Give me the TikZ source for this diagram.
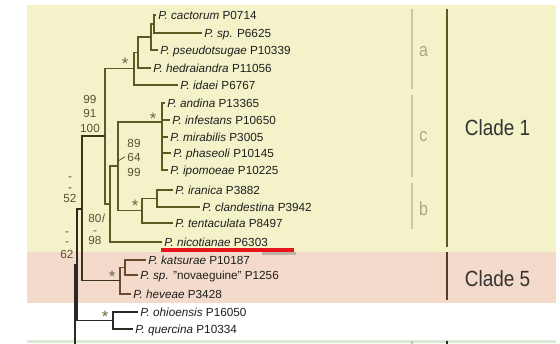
\documentclass[tikz,border=0pt]{standalone}
\usepackage{fontspec}
\setmainfont{Liberation Sans}
\definecolor{bgY}{HTML}{F4F2C9}
\definecolor{bgS}{HTML}{F4DACA}
\definecolor{bgG}{HTML}{D9EBD3}
\definecolor{brY}{HTML}{5C5A22}
\definecolor{brS}{HTML}{6B4B2E}
\definecolor{brK}{HTML}{2A2A22}
\definecolor{brE}{HTML}{3B3418}
\definecolor{tipcol}{HTML}{1E1E1E}
\definecolor{bscol}{HTML}{5B5233}
\definecolor{starcol}{HTML}{6B6740}
\definecolor{subbar}{HTML}{C9C6A0}
\definecolor{sublet}{HTML}{A9A78A}
\definecolor{cbarA}{HTML}{5A5620}
\definecolor{cbarB}{HTML}{5A3A20}
\definecolor{cladetxt}{HTML}{333333}
\definecolor{ulred}{HTML}{E8141B}
\newcommand\tipsize{\fontsize{8.8pt}{10pt}\selectfont}
\newcommand\starsize{\fontsize{12.5pt}{14pt}\selectfont}
\newcommand\cladesize{\fontsize{16.5pt}{18pt}\selectfont}
\newcommand\subsize{\fontsize{14pt}{16pt}\selectfont}
\begin{document}
\begin{tikzpicture}[x=0.75pt,y=-0.75pt,
  tip/.style={anchor=west,inner xsep=1.9pt,inner ysep=0pt,text height=6.3pt,text depth=0pt,font=\tipsize,text=tipcol},
  bs/.style={inner sep=0pt,text height=6.3pt,text depth=0pt,font=\tipsize,text=bscol},
  star/.style={inner sep=0pt,font=\starsize,text=starcol},
  ybr/.style={draw=brY,line width=0.9pt},
  sbr/.style={draw=brS,line width=0.9pt},
  kbr/.style={draw=brK,line width=0.9pt},
  ebr/.style={draw=brE,line width=0.9pt},
  subbarsty/.style={draw=subbar,line width=1.2pt},
  subletsty/.style={anchor=base,inner sep=0pt,font=\subsize,text=sublet,xscale=0.86},
  cladesty/.style={anchor=base,inner sep=0pt,font=\cladesize,text=cladetxt,xscale=0.86}
]
\useasboundingbox (0,0) rectangle (560,343);
\fill[white] (0,0) rectangle (560,343);
\fill[bgY] (27,5) rectangle (556,252);
\fill[bgS] (27,252) rectangle (556,303);
\fill[bgG] (27,340) rectangle (556,343);

% internal nodes
\coordinate (Cp) at (154,24);
\coordinate (C) at (151,37);
\coordinate (B) at (138,52.5);
\coordinate (A) at (134,68.75);
\coordinate (Cn) at (162,122);
\coordinate (bi) at (157,198.5);
\coordinate (bn) at (142,210.75);
\coordinate (F) at (118,166);
\coordinate (H) at (110,204);
\coordinate (D) at (105,136);
\coordinate (E) at (82,209);
\coordinate (KK) at (125,267.5);
\coordinate (K) at (120,280.75);
\coordinate (O) at (113,320.5);
\coordinate (G) at (77,264.75);
\coordinate (Rend) at (75,345);

% tips
\node[tip] (cact) at (155.5,15) {\textit{P. cactorum} P0714};
\node[tip] (spp)  at (201.5,33) {\textit{P. sp.} P6625};
\node[tip] (pseu) at (157.5,50) {\textit{P. pseudotsugae} P10339};
\node[tip] (hedr) at (150.5,68) {\textit{P. hedraiandra} P11056};
\node[tip] (idae) at (177.5,85) {\textit{P. idaei} P6767};
\node[tip] (andi) at (164.5,103) {\textit{P. andina} P13365};
\node[tip] (infe) at (169.5,120) {\textit{P. infestans} P10650};
\node[tip] (mira) at (167.5,137) {\textit{P. mirabilis} P3005};
\node[tip] (phas) at (170.5,153) {\textit{P. phaseoli} P10145};
\node[tip] (ipom) at (167.5,170) {\textit{P. ipomoeae} P10225};
\node[tip] (iran) at (172.5,190) {\textit{P. iranica} P3882};
\node[tip] (clan) at (199.5,207) {\textit{P. clandestina} P3942};
\node[tip] (tent) at (172.5,223) {\textit{P. tentaculata} P8497};
\node[tip] (nico) at (161.5,242) {\textit{P. nicotianae} P6303};
\node[tip] (kats) at (145.5,260) {\textit{P. katsurae} P10187};
\node[tip] (nova) at (137.5,275) {\textit{P. sp.} "novaeguine" P1256};
\node[tip] (heve) at (130.5,294) {\textit{P. heveae} P3428};
\node[tip] (ohio) at (137.5,312) {\textit{P. ohioensis} P16050};
\node[tip] (quer) at (132.5,329) {\textit{P. quercina} P10334};

% clade 1 branches
\draw[ybr] (Cp) |- (cact.west);
\draw[ybr] (Cp) |- (spp.west);
\draw[ybr] (C) |- (Cp);
\draw[ybr] (C) |- (pseu.west);
\draw[ybr] (B) |- (C);
\draw[ybr] (B) |- (hedr.west);
\draw[ybr] (A) |- (B);
\draw[ybr] (A) |- (idae.west);
\draw[ybr] (Cn) |- (andi.west);
\draw[ybr] (Cn) |- (infe.west);
\draw[ybr] (Cn) |- (mira.west);
\draw[ybr] (Cn) |- (phas.west);
\draw[ybr] (Cn) |- (ipom.west);
\draw[draw=brY,line width=1.7pt] (Cn) -- ++(0,20);
\draw[ybr] (bi) |- (iran.west);
\draw[ybr] (bi) |- (clan.west);
\draw[ybr] (bn) |- (bi);
\draw[ybr] (bn) |- (tent.west);
\draw[ybr] (F) |- (Cn);
\draw[ybr] (F) |- (bn);
\draw[ybr] (H) |- (F);
\draw[ybr] (H) |- (nico.west);
\draw[ybr] (D) |- (A);
\draw[ybr] (D) |- (H);
\draw[ebr] (E) |- (D);
% clade 5 branches
\draw[sbr] (KK) |- (kats.west);
\draw[sbr] (KK) |- (nova.west);
\draw[sbr] (K) |- (KK);
\draw[sbr] (K) |- (heve.west);
\draw[ebr] (E) |- (K);
% others
\draw[kbr] (O) |- (ohio.west);
\draw[kbr] (O) |- (quer.west);
\draw[kbr] (G) |- (E);
\draw[kbr] (G) |- (O);
\draw[kbr] (Rend) |- (G);

% support values
\node[bs] (s1a) at (90,99) {99};
\node[bs] (s1b) at (90,113) {91};
\node[bs] (s1c) at (90,128) {100};
\node[bs] (s2a) at (134,143) {89};
\node[bs] (s2b) at (134,157) {64};
\node[bs] (s2c) at (134,172) {99};
\coordinate (sl2a) at (117,161.7);
\coordinate (sl2b) at (125,156.7);
\draw[draw=bscol,line width=0.6pt] (sl2a) -- (sl2b);
\node[bs] (s3a) at (70,176) {-};
\node[bs] (s3b) at (70,187) {-};
\node[bs] (s3c) at (70,198) {52};
\node[bs] (s4a) at (67,231) {-};
\node[bs] (s4b) at (67,241) {-};
\node[bs] (s4c) at (67,254) {62};
\node[bs] (s5a) at (95,218) {80};
\coordinate (sl5a) at (102.5,222);
\coordinate (sl5b) at (104.5,213.5);
\draw[draw=bscol,line width=0.6pt] (sl5a) -- (sl5b);
\node[bs] (s5b) at (95,230) {-};
\node[bs] (s5c) at (95,240) {98};

% stars
\node[star] (st1) at (125,64) {*};
\node[star] (st2) at (153,119) {*};
\node[star] (st3) at (135,206) {*};
\node[star] (st4) at (112,277) {*};
\node[star] (st5) at (105,317) {*};

% underline
\coordinate (sh1) at (262,253.5);
\coordinate (sh2) at (296,253.5);
\draw[draw=gray,opacity=0.45,line width=1.8pt] (sh1) -- (sh2);
\coordinate (ul1) at (161,250);
\coordinate (ul2) at (294,250);
\draw[draw=ulred,line width=2.6pt] (ul1) -- (ul2);

% subclade bars
\coordinate (a1) at (412,9);  \coordinate (a2) at (412,89);
\coordinate (c1) at (412,95); \coordinate (c2) at (412,177);
\coordinate (b1) at (412,183);\coordinate (b2) at (412,229);
\coordinate (g1) at (412,341);\coordinate (g2) at (412,345);
\draw[subbarsty] (a1) -- (a2);
\draw[subbarsty] (c1) -- (c2);
\draw[subbarsty] (b1) -- (b2);
\draw[subbarsty] (g1) -- (g2);
\node[subletsty] (la) at (423.5,56) {a};
\node[subletsty] (lc) at (423.5,141.7) {c};
\node[subletsty] (lb) at (423.5,215) {b};

% clade bars
\coordinate (k1a) at (447,9);   \coordinate (k1b) at (447,247);
\coordinate (k5a) at (447,252); \coordinate (k5b) at (447,300);
\coordinate (kga) at (447,341); \coordinate (kgb) at (447,345);
\draw[draw=cbarA,line width=1.3pt] (k1a) -- (k1b);
\draw[draw=cbarB,line width=1.3pt] (k5a) -- (k5b);
\draw[draw=brK,line width=1.3pt] (kga) -- (kgb);
\node[cladesty] (cl1) at (497.5,135) {Clade 1};
\node[cladesty] (cl5) at (497.5,286.5) {Clade 5};
\end{tikzpicture}
\end{document}
